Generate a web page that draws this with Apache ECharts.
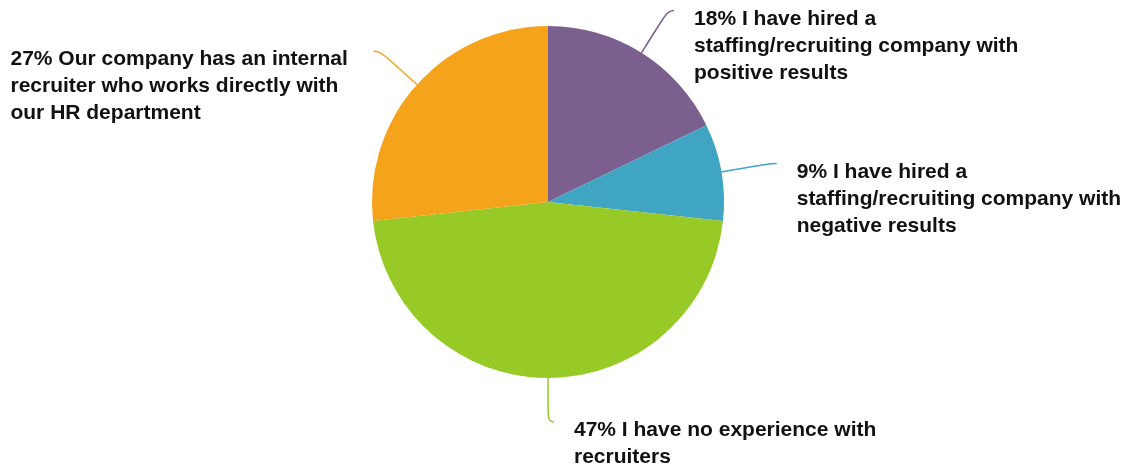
<!DOCTYPE html>
<html>
<head>
<meta charset="utf-8">
<script src="https://cdn.jsdelivr.net/npm/echarts@6/dist/echarts.min.js"></script>
<style>
  html, body { margin: 0; padding: 0; background: #ffffff; }
  #chart { width: 1126px; height: 471px; }
</style>
</head>
<body>
<div id="chart"></div>
<script>
// Survey answers, in clockwise order from 12 o'clock
const categories = [
  'I have hired a\nstaffing/recruiting company with\npositive results',
  'I have hired a\nstaffing/recruiting company with\nnegative results',
  'I have no experience with\nrecruiters',
  'Our company has an internal\nrecruiter who works directly with\nour HR department'
];
const shares = [18, 9, 47, 27];
const sliceColors = ['#7b5f8e', '#40a4c3', '#97c927', '#f5a31b'];

// Leader line lengths (radial part) per slice
const leaderLengths = [50, 50, 44, 50];

const chart = echarts.init(document.getElementById('chart'), null, { renderer: 'canvas' });

const data = categories.map((name, i) => ({
  name: name,
  value: shares[i],
  itemStyle: { color: sliceColors[i] },
  labelLine: { length: leaderLengths[i] }
}));

chart.setOption({
  animation: false,
  backgroundColor: '#ffffff',
  series: [{
    type: 'pie',
    center: [548, 202],
    radius: [0, 176],
    startAngle: 90,
    clockwise: true,
    avoidLabelOverlap: false,
    data: data,
    label: {
      show: true,
      position: 'outside',
      formatter: p => p.value + '% ' + p.name,
      fontFamily: 'Liberation Sans, Arial, sans-serif',
      fontWeight: 'bold',
      fontSize: 21,
      lineHeight: 27,
      align: 'left',
      color: '#111111'
    },
    labelLine: {
      show: true,
      length: 50,
      length2: 6,
      smooth: 0.6,
      lineStyle: { width: 1.5 }
    },
    // Each text block hangs from the end of its leader line, text left-aligned
    labelLayout: function (params) {
      const pts = params.labelLinePoints;
      if (!pts) return {};
      const end = pts[pts.length - 1];
      const isLeft = end[0] < 548;
      const w = params.labelRect.width;
      return {
        x: isLeft ? end[0] - 26 - w : end[0] + 20,
        y: end[1] - 5,
        align: 'left',
        verticalAlign: 'top',
        labelLinePoints: pts
      };
    }
  }]
});
</script>
</body>
</html>
